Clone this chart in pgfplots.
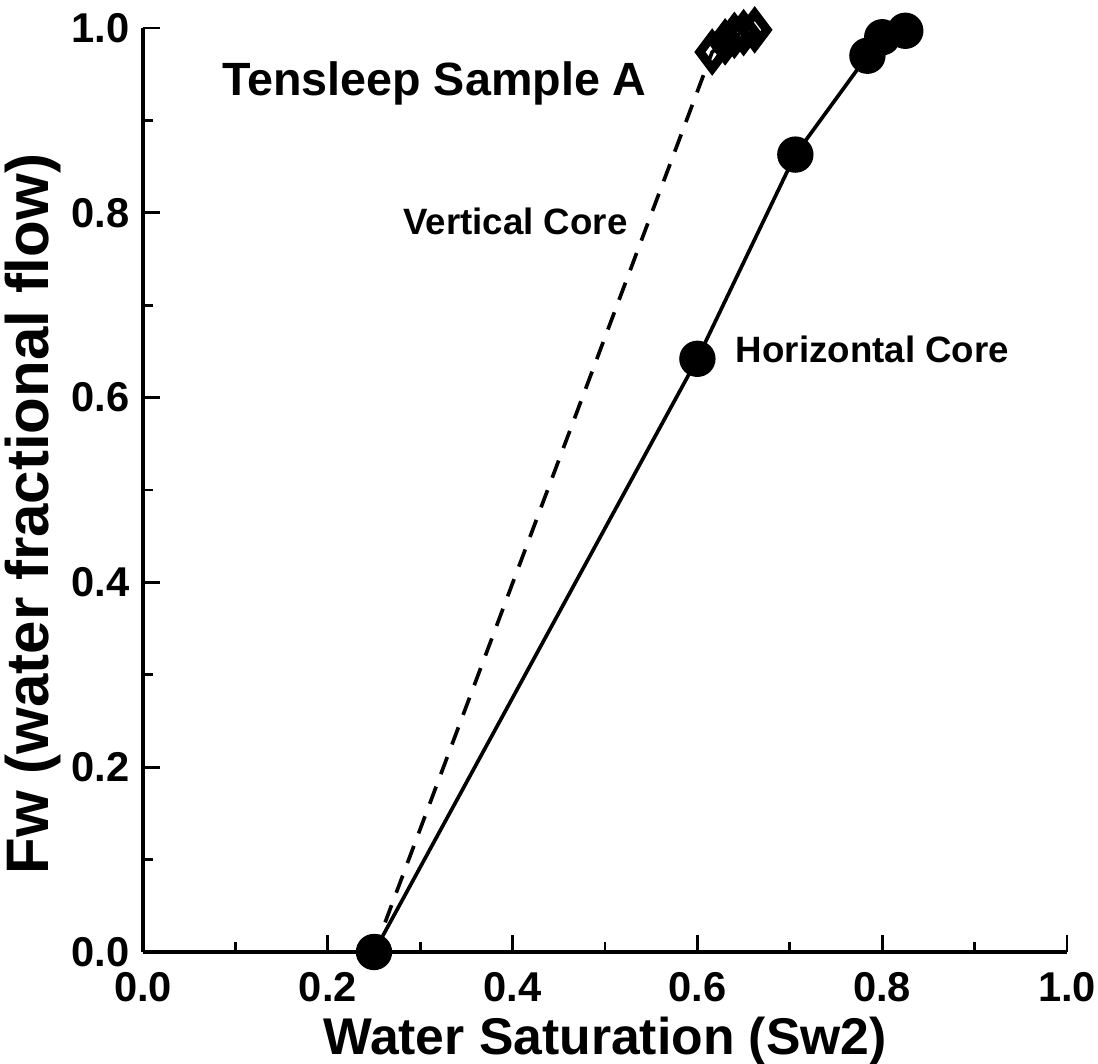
\documentclass[border=0pt]{standalone}
\usepackage{fontspec}
\setmainfont{Liberation Sans}
\usepackage{pgfplots}
\pgfplotsset{compat=1.18}
\begin{document}
\begin{tikzpicture}
\begin{axis}[
  scale only axis,
  width=277.2pt, height=277.2pt,
  xmin=0, xmax=1, ymin=0, ymax=1,
  axis x line=bottom, axis y line=left,
  axis line style={line width=1pt, -},
  clip=false,
  xtick={0,0.2,0.4,0.6,0.8,1.0},
  ytick={0,0.2,0.4,0.6,0.8,1.0},
  minor xtick={0.1,0.3,0.5,0.7,0.9},
  minor ytick={0.1,0.3,0.5,0.7,0.9},
  tick align=inside,
  major tick length=5pt, minor tick length=3pt,
  tick style={line width=0.8pt, black},
  xticklabel={\pgfmathprintnumber[fixed,fixed zerofill,precision=1]{\tick}},
  yticklabel={\pgfmathprintnumber[fixed,fixed zerofill,precision=1]{\tick}},
  /pgf/number format/assume math mode=true,
  ticklabel style={font=\fontsize{12.5}{14}\selectfont\bfseries},
  xticklabel style={yshift=-2.5pt},
  yticklabel style={xshift=-0.5pt},
  xlabel={Water Saturation (Sw2)},
  ylabel={Fw (water fractional flow)},
  xlabel style={font=\fontsize{15.5}{18}\selectfont\bfseries, at={(axis description cs:0.5,-0.096)}, anchor=center},
  ylabel style={font=\fontsize{18}{21}\selectfont\bfseries, at={(axis description cs:-0.119,0.474)}, anchor=center},
]
\coordinate (bl) at (rel axis cs:0,0);
\coordinate (tr) at (rel axis cs:1,1);
% Vertical core
\addplot[black, line width=1.1pt, dash pattern=on 5.5pt off 4pt, mark=diamond, mark size=4.9pt,
  mark indices={2,3,4,5,6},
  mark options={solid, fill=white, line width=2.7pt}]
  coordinates {(0.25,0.0) (0.616,0.974) (0.630,0.985) (0.640,0.992) (0.650,0.995) (0.662,0.998)};
% Horizontal core
\addplot[black, line width=1.1pt, mark=*, mark size=4.9pt, mark options={fill=black}]
  coordinates {(0.25,0.0) (0.60,0.642) (0.706,0.863) (0.784,0.970) (0.800,0.990) (0.825,0.997)};
\node[anchor=west, font=\fontsize{14}{16}\selectfont\bfseries, inner sep=0pt] at (axis cs:0.085,0.94) {Tensleep Sample A};
\node[anchor=center, font=\fontsize{11}{13}\selectfont\bfseries, inner sep=0pt] at (axis cs:0.403,0.791) {Vertical Core};
\node[anchor=west, font=\fontsize{11}{13}\selectfont\bfseries, inner sep=0pt] at (axis cs:0.641,0.652) {Horizontal Core};
\end{axis}
\pgfresetboundingbox
\path[use as bounding box] ([xshift=-42.9pt,yshift=-33.3pt]bl) rectangle ([xshift=9.3pt,yshift=8.4pt]tr);
\end{tikzpicture}
\end{document}
